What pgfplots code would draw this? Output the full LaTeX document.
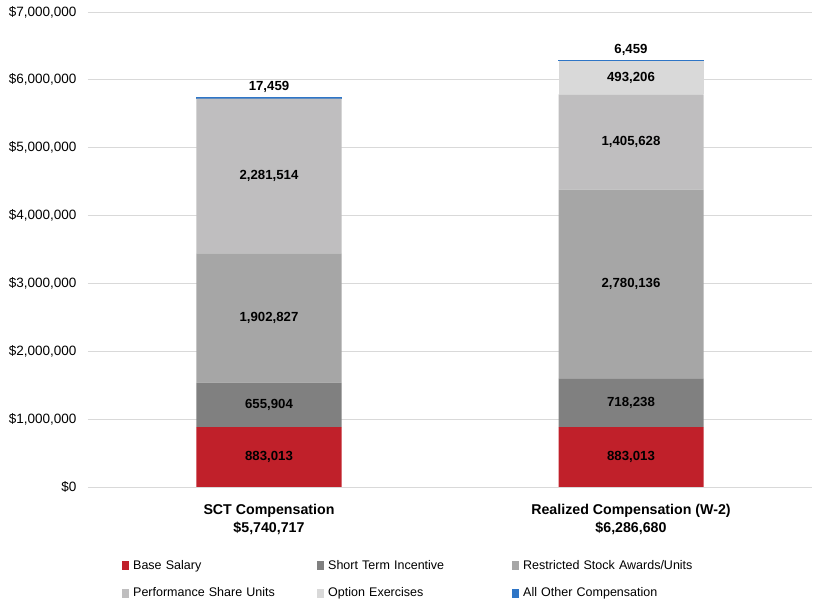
\documentclass[border=0pt]{standalone}
\usepackage{fontspec}
\setmainfont{Liberation Sans}
\usepackage{pgfplots}
\usepackage{pgfplotstable}
\pgfplotsset{compat=1.18}
\definecolor{cBase}{HTML}{C0202A}
\definecolor{cSTI}{HTML}{808080}
\definecolor{cRSU}{HTML}{A6A6A6}
\definecolor{cPSU}{HTML}{BFBEBF}
\definecolor{cOpt}{HTML}{D9D9D9}
\definecolor{cOth}{HTML}{2E75C6}
\definecolor{cGrid}{HTML}{D9D9D9}

% x: 0 = SCT Compensation, 1 = Realized Compensation (W-2)
\pgfplotstableread{
x base sti rsu psu opt oth
0 883013 655904 1902827 2281514 0 17459
1 883013 718238 2780136 1405628 493206 6459
}\comp

% label positions (segment midpoints) and texts
\pgfplotstableread{
x y lab
0 441506 883,013
0 1210965 655,904
0 2490330 1,902,827
0 4582501 2,281,514
1 441506 883,013
1 1242132 718,238
1 2991319 2,780,136
1 5084201 1,405,628
1 6033618 493,206
}\mids
\pgfplotstableread{
x y lab
0 5740717 17,459
1 6286680 6,459
}\tops

\begin{document}
\begin{tikzpicture}
\useasboundingbox (-88pt,-117pt) rectangle (732pt,487pt);
\begin{axis}[
  scale only axis, width=724pt, height=475pt,
  ybar stacked, bar width=145pt,
  xmin=-0.5, xmax=1.5, ymin=0, ymax=7000000,
  xtick={0,1},
  xticklabels={{SCT Compensation\\\$5,740,717},{Realized Compensation (W-2)\\\$6,286,680}},
  x tick label style={align=center, font=\fontsize{14.2}{18}\selectfont\bfseries, yshift=-14pt},
  ytick={0,1000000,...,7000000},
  scaled y ticks=false,
  yticklabel={\$\pgfmathprintnumber[fixed,1000 sep={,},assume math mode=true]{\tick}},
  y tick label style={font=\fontsize{13.5}{15}\selectfont, xshift=-8pt},
  major tick length=0pt,
  ymajorgrids, grid style={cGrid, line width=0.8pt},
  separate axis lines,
  x axis line style={draw=cGrid, line width=0.8pt},
  y axis line style={draw=none},
  axis x line*=bottom,
  axis y line*=left,
  legend columns=3,
  legend style={draw=none, at={(rel axis cs:0,0)}, anchor=north west, xshift=31pt, yshift=-69pt,
    font=\fontsize{12.5}{15}\selectfont, row sep=13pt,
    /tikz/every even column/.append style={text width=182pt, align=left}},
  legend cell align=left,
  legend image code/.code={\fill[#1, draw=none] (0pt,-4.5pt) rectangle (7pt,4.5pt); \path[draw=none, fill=none] (0pt,0pt) -- (9pt,0pt);},
]
\addplot[fill=cBase, draw=none] table[x=x, y=base] {\comp};
\addplot[fill=cSTI, draw=none] table[x=x, y=sti] {\comp};
\addplot[fill=cRSU, draw=none] table[x=x, y=rsu] {\comp};
\addplot[fill=cPSU, draw=none] table[x=x, y=psu] {\comp};
\addplot[fill=cOpt, draw=none] table[x=x, y=opt] {\comp};
\addplot[fill=cOth, draw=cOth, line width=1pt] table[x=x, y=oth] {\comp};
\legend{Base Salary, Short Term Incentive, Restricted Stock Awards/Units, Performance Share Units, Option Exercises, All Other Compensation}
\end{axis}
\begin{axis}[
  scale only axis, width=724pt, height=475pt,
  xmin=-0.5, xmax=1.5, ymin=0, ymax=7000000,
  hide axis,
]
\addplot[draw=none, nodes near coords, point meta=explicit symbolic,
  every node near coord/.style={anchor=center, font=\fontsize{13.2}{15}\selectfont\bfseries, black}]
  table[x=x, y=y, meta=lab] {\mids};
\addplot[draw=none, nodes near coords, point meta=explicit symbolic,
  every node near coord/.style={anchor=south, yshift=1pt, font=\fontsize{13.2}{15}\selectfont\bfseries, black}]
  table[x=x, y=y, meta=lab] {\tops};
\end{axis}
\end{tikzpicture}
\end{document}
